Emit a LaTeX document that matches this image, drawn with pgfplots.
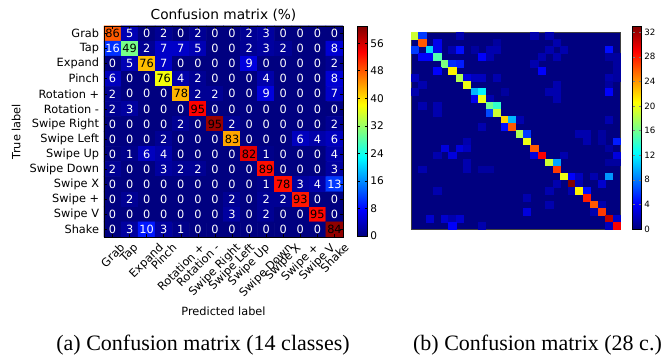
\documentclass[border=0pt]{standalone}
\usepackage{fontspec}
\setmainfont{DejaVu Sans}
\newfontfamily\capfont{Liberation Serif}
\usepackage{graphicx}
\usepackage{pgfplots}
\usepackage{pgfplotstable}
\pgfplotsset{compat=1.18}
\pgfplotsset{/pgf/number format/assume math mode=true}
\definecolor{jetzero}{RGB}{0,0,128}
\newcommand{\fs}{\fontsize{8.5}{10}\selectfont}

% 14-class matrix: x = predicted, y = true, p = percentage, c = colour value
\pgfplotstableread{
x y p c
0 0 86 48
1 0 5 3.1
2 0 0 0
3 0 2 1.2
4 0 0 0
5 0 2 1.2
6 0 0 0
7 0 0 0
8 0 2 1.2
9 0 3 1.9
10 0 0 0
11 0 0 0
12 0 0 0
13 0 0 0
0 1 16 10.5
1 1 49 30
2 1 2 1.2
3 1 7 4.3
4 1 7 4.3
5 1 5 3.1
6 1 0 0
7 1 0 0
8 1 2 1.2
9 1 3 1.9
10 1 2 1.2
11 1 0 0
12 1 0 0
13 1 8 5
0 2 0 0
1 2 5 3.1
2 2 76 42
3 2 7 4.3
4 2 0 0
5 2 0 0
6 2 0 0
7 2 0 0
8 2 9 5.6
9 2 0 0
10 2 0 0
11 2 0 0
12 2 0 0
13 2 2 1.2
0 3 6 3.7
1 3 0 0
2 3 0 0
3 3 76 37.5
4 3 4 2.5
5 3 2 1.2
6 3 0 0
7 3 0 0
8 3 0 0
9 3 4 2.5
10 3 0 0
11 3 0 0
12 3 0 0
13 3 8 5
0 4 2 1.2
1 4 0 0
2 4 0 0
3 4 0 0
4 4 78 42.7
5 4 2 1.2
6 4 2 1.2
7 4 0 0
8 4 0 0
9 4 9 5.6
10 4 0 0
11 4 0 0
12 4 0 0
13 4 7 4.3
0 5 2 1.2
1 5 3 1.9
2 5 0 0
3 5 0 0
4 5 0 0
5 5 95 53.4
6 5 0 0
7 5 0 0
8 5 0 0
9 5 0 0
10 5 0 0
11 5 0 0
12 5 0 0
13 5 0 0
0 6 0 0
1 6 0 0
2 6 0 0
3 6 0 0
4 6 2 1.2
5 6 0 0
6 6 95 59.5
7 6 2 1.2
8 6 0 0
9 6 0 0
10 6 0 0
11 6 0 0
12 6 0 0
13 6 2 1.2
0 7 0 0
1 7 0 0
2 7 0 0
3 7 2 1.2
4 7 0 0
5 7 0 0
6 7 0 0
7 7 83 43.5
8 7 0 0
9 7 0 0
10 7 0 0
11 7 6 3.7
12 7 4 2.5
13 7 6 3.7
0 8 0 0
1 8 1 0.6
2 8 6 3.7
3 8 4 2.5
4 8 0 0
5 8 0 0
6 8 0 0
7 8 0 0
8 8 82 55
9 8 1 0.6
10 8 0 0
11 8 0 0
12 8 0 0
13 8 4 2.5
0 9 2 1.2
1 9 0 0
2 9 0 0
3 9 3 1.9
4 9 2 1.2
5 9 2 1.2
6 9 0 0
7 9 0 0
8 9 0 0
9 9 89 52.6
10 9 0 0
11 9 0 0
12 9 0 0
13 9 3 1.9
0 10 0 0
1 10 0 0
2 10 0 0
3 10 0 0
4 10 0 0
5 10 0 0
6 10 0 0
7 10 0 0
8 10 0 0
9 10 1 0.6
10 10 78 52.6
11 10 3 1.9
12 10 4 2.5
13 10 13 11
0 11 0 0
1 11 2 1.2
2 11 0 0
3 11 0 0
4 11 0 0
5 11 0 0
6 11 0 0
7 11 2 1.2
8 11 0 0
9 11 2 1.2
10 11 2 1.2
11 11 93 52
12 11 0 0
13 11 0 0
0 12 0 0
1 12 0 0
2 12 0 0
3 12 0 0
4 12 0 0
5 12 0 0
6 12 0 0
7 12 3 1.9
8 12 0 0
9 12 2 1.2
10 12 0 0
11 12 0 0
12 12 95 53
13 12 0 0
0 13 0 0
1 13 3 1.9
2 13 10 9
3 13 3 1.9
4 13 1 0.6
5 13 0 0
6 13 0 0
7 13 0 0
8 13 0 0
9 13 0 0
10 13 0 0
11 13 0 0
12 13 0 0
13 13 84 60
}\matA

% 28-class matrix: only the non-zero cells (x = predicted, y = true, c = count)
\pgfplotstableread{
x y c
0 0 19
1 0 6
6 0 1.5
16 0 1.5
18 0 1.5
1 1 26
3 1 3.5
11 1 1
19 1 1.5
0 2 6
2 2 11
3 2 3.5
5 2 1.5
6 2 4.5
8 2 1
10 2 1.5
11 2 1.5
18 2 1.5
20 2 1.5
26 2 4.5
1 3 4
2 3 4
3 3 15
9 3 4
10 3 1.5
17 3 1.5
19 3 1.5
26 3 1
27 3 1
4 4 16.5
5 4 5.5
6 4 5
16 4 1.5
27 4 1
3 5 4
5 5 21
17 5 4
27 5 1
0 6 2
6 6 18
7 6 3
8 6 2
9 6 2
11 6 1.5
26 6 1.5
27 6 1
1 7 1.5
7 7 20
19 7 1.5
26 7 1
0 8 1.5
8 8 10
9 8 12
12 8 1
18 8 1.5
19 8 1.5
26 8 4
8 9 3.5
9 9 20
10 9 1.5
19 9 1.5
1 10 1.5
3 10 1.5
10 10 16
11 10 14
3 11 1.5
10 11 6.5
11 11 19
12 12 22
13 12 10
14 12 1.5
26 12 1.5
9 13 1.5
12 13 4.5
13 13 26
14 14 18
15 14 6
22 14 1.5
23 14 1.5
25 14 1
7 15 1.5
15 15 20
23 15 1.5
25 15 1
27 15 5
4 16 3
6 16 3
7 16 2
16 16 26
26 16 1
3 17 1.5
5 17 3
16 17 3
17 17 29
20 17 1.5
27 17 3
7 18 1.5
18 18 19
19 18 9.5
26 18 1
27 18 1
1 19 1.5
7 19 1.5
9 19 1
10 19 1
19 19 27
20 20 20
21 20 4
22 20 2
24 20 1.5
26 20 9
19 21 1.5
21 21 33
22 21 1.5
25 21 2.5
3 22 1.5
18 22 1.5
21 22 1.5
22 22 21
23 22 4.5
15 23 1.5
23 23 28
18 24 1.5
24 24 26
25 24 1.5
15 25 3
24 25 1.5
25 25 27
2 26 2.5
4 26 2.5
5 26 1.5
6 26 2.5
26 26 31
27 26 2.5
5 27 4
9 27 1.5
26 27 2
27 27 29
}\matB

\begin{document}
\begin{tikzpicture}
\useasboundingbox (0,0) rectangle (497.25pt,267pt);

\begin{axis}[
  at={(78pt,89.25pt)}, anchor=south west,
  scale only axis, width=179.25pt, height=158.25pt,
  xmin=-0.5, xmax=13.5, ymin=-0.5, ymax=13.5, y dir=reverse,
  enlargelimits=false, axis on top,
  xtick={0,...,13}, ytick={0,...,13},
  xticklabels={\rotatebox{45}{Grab},\rotatebox{45}{Tap},\rotatebox{45}{Expand},\rotatebox{45}{Pinch},\rotatebox{45}{Rotation +},\rotatebox{45}{Rotation -},\rotatebox{45}{Swipe Right},\rotatebox{45}{Swipe Left},\rotatebox{45}{Swipe Up},\rotatebox{45}{Swipe Down},\rotatebox{45}{Swipe X},\rotatebox{45}{Swipe +},\rotatebox{45}{Swipe V},\rotatebox{45}{Shake}},
  yticklabels={Grab,Tap,Expand,Pinch,Rotation +,Rotation -,Swipe Right,Swipe Left,Swipe Up,Swipe Down,Swipe X,Swipe +,Swipe V,Shake},
  xticklabel style={anchor=north, inner sep=0pt, font=\fs},
  xticklabel shift=4pt,
  yticklabel style={anchor=east, inner sep=0pt, font=\fs},
  yticklabel shift=3.5pt,
  tick align=inside, major tick length=2.5pt, tick style={black, line width=0.4pt},
  colormap/jet, point meta min=0, point meta max=61,
  colorbar,
  colorbar style={
    at={(parent axis.north east)}, anchor=north west, xshift=2.25pt,
    width=7.5pt, height=157.5pt,
    ytick={0,8,...,56},
    yticklabel style={font=\fontsize{7.9}{9}\selectfont, inner sep=2pt},
    major tick length=2pt,
  },
  every axis title shift=0pt,
  title={Confusion matrix (\%)},
  title style={at={(axis description cs:0.5,1.052)}, anchor=center, font=\fontsize{10.3}{12}\selectfont, inner sep=0pt},
  xlabel={Predicted label},
  xlabel style={at={(axis description cs:0.5,-0.351)}, anchor=center, font=\fs, inner sep=0pt},
  ylabel={True label},
  ylabel style={at={(axis description cs:-0.368,0.5)}, anchor=center, font=\fs, inner sep=0pt},
]
\addplot[matrix plot*, mesh/cols=14, mesh/rows=14, point meta=explicit] table[x=x, y=y, meta=c] \matA;
\addplot[draw=none, mark=none, nodes near coords, nodes near coords align={center},
  point meta=explicit symbolic,
  every node near coord/.append style={font=\fs, text=white, inner sep=0pt},
  restrict expr to domain={\thisrow{p}}{-1:39}, unbounded coords=discard]
  table[x=x, y=y, meta=p] \matA;
\addplot[draw=none, mark=none, nodes near coords, nodes near coords align={center},
  point meta=explicit symbolic,
  every node near coord/.append style={font=\fs, text=black, inner sep=0pt},
  restrict expr to domain={\thisrow{p}}{40:100}, unbounded coords=discard]
  table[x=x, y=y, meta=p] \matA;
\end{axis}

\begin{axis}[
  at={(308.25pt,95.25pt)}, anchor=south west,
  scale only axis, width=156.75pt, height=147.75pt,
  xmin=-0.5, xmax=27.5, ymin=-0.5, ymax=27.5, y dir=reverse,
  enlargelimits=false, axis on top,
  xtick=\empty, ytick=\empty,
  axis background/.style={fill=jetzero},
  axis line style={black!75},
  colormap/jet, point meta min=0, point meta max=33,
  colorbar,
  colorbar style={
    at={(parent axis.south east)}, anchor=south west, xshift=0.75pt,
    width=6.75pt, height=152.25pt,
    ytick={0,4,...,32},
    yticklabel style={font=\fontsize{6.5}{8}\selectfont, inner sep=2pt},
    major tick length=2pt,
  },
]
\addplot[scatter, only marks, mark=square*, mark size=2.54pt,
  mark options={xscale=1.06, line width=0.2pt},
  scatter/use mapped color={draw=mapped color, fill=mapped color},
  point meta=explicit] table[x=x, y=y, meta=c] \matB;
\end{axis}

\node[font=\capfont\fontsize{16.5}{19}\selectfont] at (152.25pt,8.25pt) {(a) Confusion matrix (14 classes)};
\node[font=\capfont\fontsize{16.5}{19}\selectfont] at (403.1pt,8.25pt) {(b) Confusion matrix (28 c.)};
\end{tikzpicture}
\end{document}
